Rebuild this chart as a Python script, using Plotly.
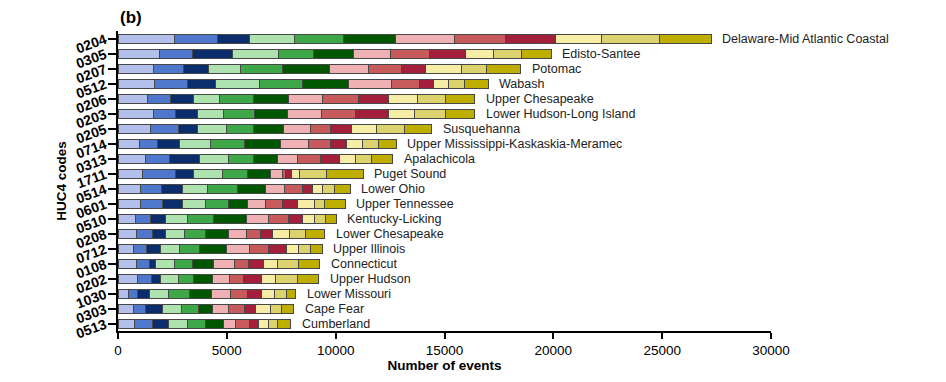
import plotly.graph_objects as go

# HUC4 basins, top to bottom
codes = ["0204", "0305", "0207", "0512", "0206", "0203", "0205", "0714", "0313", "1711",
         "0514", "0601", "0510", "0208", "0712", "0108", "0202", "1030", "0303", "0513"]
names = ["Delaware-Mid Atlantic Coastal", "Edisto-Santee", "Potomac", "Wabash",
         "Upper Chesapeake", "Lower Hudson-Long Island", "Susquehanna",
         "Upper Mississippi-Kaskaskia-Meramec", "Apalachicola", "Puget Sound",
         "Lower Ohio", "Upper Tennessee", "Kentucky-Licking", "Lower Chesapeake",
         "Upper Illinois", "Connecticut", "Upper Hudson", "Lower Missouri",
         "Cape Fear", "Cumberland"]

# Number of events per month for each basin
jan = [2609, 1920, 1617, 1663, 1341, 1617, 1507, 974, 1263, 1126, 1034, 1034, 818, 850, 698, 850, 882, 496, 726, 772]
feb = [1948, 1503, 1378, 1530, 1085, 1038, 1286, 841, 1117, 1529, 964, 1010, 689, 735, 611, 583, 657, 400, 537, 799]
mar = [1470, 1823, 1163, 1286, 1056, 983, 845, 1024, 1350, 827, 965, 919, 689, 611, 657, 304, 413, 565, 781, 763]
apr = [2068, 2114, 1483, 2035, 1195, 1195, 1346, 1424, 1333, 1305, 1149, 1071, 997, 873, 873, 872, 814, 873, 873, 845]
may = [2251, 1607, 1902, 1948, 1562, 1424, 1255, 1562, 1148, 1162, 1364, 1056, 1194, 965, 919, 800, 716, 964, 795, 841]
jun = [2388, 1838, 2187, 2127, 1608, 1516, 1378, 1654, 1103, 1071, 1300, 859, 1516, 1029, 1226, 992, 859, 997, 615, 841]
jul = [2725, 1728, 1764, 1989, 1533, 1576, 1240, 1286, 918, 523, 859, 827, 997, 840, 1043, 965, 767, 887, 736, 551]
aug = [2356, 1777, 1530, 1259, 1655, 1576, 919, 1011, 1071, 152, 827, 781, 919, 643, 873, 643, 671, 767, 735, 643]
sep = [2285, 1640, 1089, 657, 1392, 1502, 965, 721, 887, 276, 459, 675, 643, 538, 841, 689, 813, 643, 519, 386]
oct = [2126, 1300, 1681, 675, 1332, 1208, 1148, 735, 707, 381, 460, 809, 579, 809, 537, 616, 657, 584, 703, 487]
nov = [2651, 1301, 1149, 735, 1300, 1424, 1259, 722, 763, 1226, 551, 459, 492, 734, 565, 992, 997, 565, 491, 386]
dec = [2374, 1364, 1562, 1103, 1333, 1333, 1268, 840, 951, 1686, 735, 937, 505, 873, 538, 965, 979, 427, 565, 624]

months = [("Jan", jan), ("Feb", feb), ("Mar", mar), ("Apr", apr), ("May", may), ("Jun", jun),
          ("Jul", jul), ("Aug", aug), ("Sep", sep), ("Oct", oct), ("Nov", nov), ("Dec", dec)]

colors = ["#b3c0ec", "#4f78cc", "#0b2d6c",
          "#aee2ae", "#3ea748", "#015601",
          "#f0b1b4", "#c75b5b", "#a31f3b",
          "#f6eea6", "#ddd36e", "#bdae00"]

rows = list(range(len(codes)))

fig = go.Figure()
for (label, vals), col in zip(months, colors):
    fig.add_trace(go.Bar(
        y=rows, x=vals, orientation="h", name=label,
        marker=dict(color=col, line=dict(color="#474747", width=1)),
        showlegend=False,
    ))

totals = [sum(v[i] for _, v in months) for i in rows]
for r, total, name in zip(rows, totals, names):
    fig.add_annotation(x=total, y=r, text=name, showarrow=False,
                       xanchor="left", yanchor="middle", xshift=9,
                       font=dict(family="Liberation Sans, Arial", size=12.5, color="#222222"))

fig.add_annotation(x=0, y=1, xref="paper", yref="paper", text="<b>(b)</b>",
                   showarrow=False, xanchor="left", yanchor="bottom", xshift=0, yshift=2,
                   font=dict(family="Liberation Sans, Arial", size=17, color="black"))

fig.update_layout(
    width=946, height=382,
    margin=dict(l=118, r=175, t=31, b=51),
    barmode="stack", bargap=0.4,
    plot_bgcolor="white", paper_bgcolor="white",
    font=dict(family="Liberation Sans, Arial", color="black"),
    xaxis=dict(
        range=[0, 30000], tickvals=[0, 5000, 10000, 15000, 20000, 25000, 30000],
        ticktext=["0", "5000", "10000", "15000", "20000", "25000", "30000"],
        showline=True, linecolor="black", linewidth=2, mirror=False,
        ticks="outside", ticklen=6, tickwidth=1.5, tickcolor="black",
        showgrid=False, zeroline=False,
        tickfont=dict(size=13.5, color="black"),
        title=dict(text="<b>Number of events</b>", font=dict(size=13.5), standoff=3),
    ),
    yaxis=dict(
        range=[len(codes) - 0.5, -0.5],
        tickvals=rows, ticktext=codes,
        showline=True, linecolor="black", linewidth=2,
        ticks="outside", ticklen=8, tickwidth=2, tickcolor="black",
        showgrid=False, zeroline=False, tickangle=-20,
        tickfont=dict(size=14, color="black", weight="bold"),
        title=dict(text="<b>HUC4 codes</b>", font=dict(size=13.5), standoff=4),
    ),
)

fig.write_html("out.html")
